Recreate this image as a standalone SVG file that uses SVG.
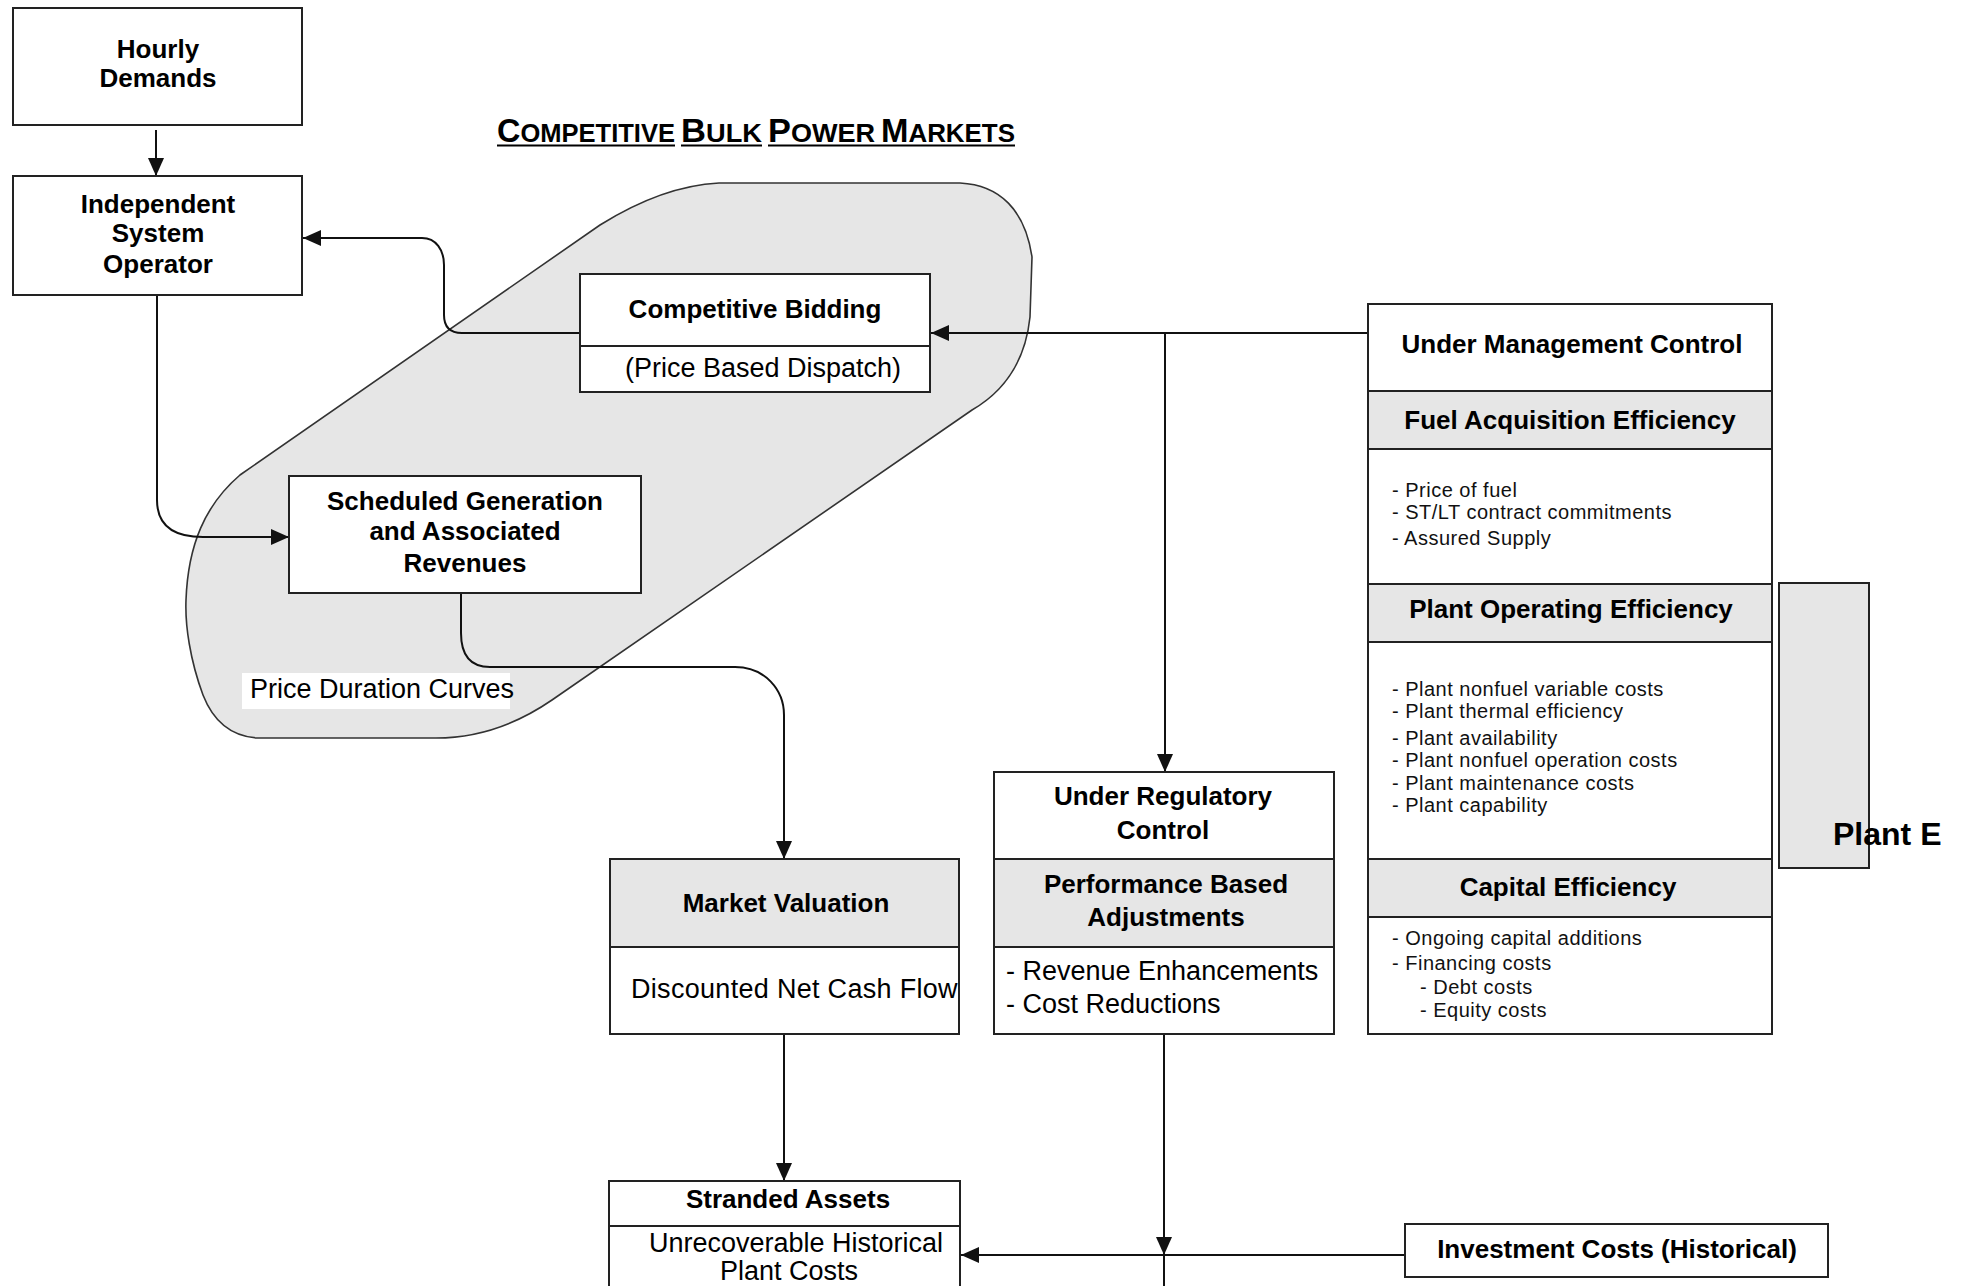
<svg xmlns="http://www.w3.org/2000/svg" width="1963" height="1286" viewBox="0 0 1963 1286">
<style>
.box{fill:#fff;stroke:#222;stroke-width:2}
.hdr{fill:#e6e6e6;stroke:#222;stroke-width:2}
.b{font-family:"Liberation Sans",Arial,sans-serif;font-weight:bold;font-size:26px;text-anchor:middle;fill:#000}
.r{font-family:"Liberation Sans",Arial,sans-serif;font-size:27px;fill:#000}
.s{font-family:"Liberation Sans",Arial,sans-serif;font-size:20px;letter-spacing:0.5px;fill:#111}
.conn{fill:none;stroke:#111;stroke-width:2}
.title{font-family:"Liberation Sans",Arial,sans-serif;font-weight:bold;fill:#000}
</style>
<defs>
<marker id="ah" viewBox="0 0 18 16" refX="18" refY="8" markerWidth="18" markerHeight="16" markerUnits="userSpaceOnUse" orient="auto"><path d="M0,0 L18,8 L0,16 Z" fill="#111"/></marker>
<clipPath id="mvclip"><rect x="610" y="947" width="349" height="87"/></clipPath>
</defs>
<rect width="1963" height="1286" fill="#fff"/>

<g id="market-region">
<path d="M 719 183 H 960 C 1000 185 1025 210 1032 257 L 1030 317 C 1026 355 1010 388 972 410 L 552 700 C 520 722 480 738 436 738 H 257 C 228 736 212 718 203 695 C 190 660 185 625 186 600 C 188 545 205 505 240 475 L 600 225 C 640 200 680 185 719 183 Z" fill="#e6e6e6" stroke="#333" stroke-width="1.6"/>
<rect x="242" y="673" width="268" height="36" fill="#fff"/>
<text class="r" x="250" y="698" font-size="26">Price Duration Curves</text>
</g>

<g id="title">
<text class="title" x="497" y="142" textLength="178" lengthAdjust="spacingAndGlyphs"><tspan font-size="33">C</tspan><tspan font-size="26">OMPETITIVE</tspan></text>
<text class="title" x="681" y="142" textLength="81" lengthAdjust="spacingAndGlyphs"><tspan font-size="33">B</tspan><tspan font-size="26">ULK</tspan></text>
<text class="title" x="768" y="142" textLength="107" lengthAdjust="spacingAndGlyphs"><tspan font-size="33">P</tspan><tspan font-size="26">OWER</tspan></text>
<text class="title" x="881" y="142" textLength="134" lengthAdjust="spacingAndGlyphs"><tspan font-size="33">M</tspan><tspan font-size="26">ARKETS</tspan></text>
<path d="M497 145.5H675M681 145.5H762M768 145.5H1015" stroke="#000" stroke-width="2"/>
</g>

<g id="connectors">
<path class="conn" d="M156 130 V176" marker-end="url(#ah)"/>
<path class="conn" d="M580 333 H462 C450 333 444 327 444 315 V265 C444 250 436 238 422 238 H303" marker-end="url(#ah)"/>
<path class="conn" d="M157 295 V500 C157 525 172 537 203 537 H289" marker-end="url(#ah)"/>
<path class="conn" d="M1368 333 H931" marker-end="url(#ah)"/>
<path class="conn" d="M1165 333 V772" marker-end="url(#ah)"/>
<path class="conn" d="M461 593 V633 C461 655 470 667 490 667 H735 C765 667 784 690 784 715 V859" marker-end="url(#ah)"/>
<path class="conn" d="M784 1034 V1181" marker-end="url(#ah)"/>
<path class="conn" d="M1164 1034 V1255" marker-end="url(#ah)"/>
<path class="conn" d="M1164 1255 V1290"/>
<path class="conn" d="M1405 1255 H961" marker-end="url(#ah)"/>
</g>

<g id="hourly-demands">
<rect class="box" x="13" y="8" width="289" height="117"/>
<text class="b" x="158" y="58">Hourly</text>
<text class="b" x="158" y="87">Demands</text>
</g>

<g id="iso">
<rect class="box" x="13" y="176" width="289" height="119"/>
<text class="b" x="158" y="213">Independent</text>
<text class="b" x="158" y="242">System</text>
<text class="b" x="158" y="273">Operator</text>
</g>

<g id="competitive-bidding">
<rect class="box" x="580" y="274" width="350" height="118"/>
<line x1="580" y1="346" x2="930" y2="346" stroke="#222" stroke-width="2"/>
<text class="b" x="755" y="318">Competitive Bidding</text>
<text class="r" x="763" y="377" text-anchor="middle">(Price Based Dispatch)</text>
</g>

<g id="scheduled-generation">
<rect class="box" x="289" y="476" width="352" height="117"/>
<text class="b" x="465" y="510">Scheduled Generation</text>
<text class="b" x="465" y="540">and Associated</text>
<text class="b" x="465" y="572">Revenues</text>
</g>

<g id="management-control">
<rect class="box" x="1368" y="304" width="404" height="730"/>
<rect class="hdr" x="1368" y="391" width="404" height="58"/>
<rect class="hdr" x="1368" y="584" width="404" height="58"/>
<rect class="hdr" x="1368" y="859" width="404" height="58"/>
<text class="b" x="1572" y="353">Under Management Control</text>
<text class="b" x="1570" y="429">Fuel Acquisition Efficiency</text>
<text class="s" x="1392" y="497">- Price of fuel</text>
<text class="s" x="1392" y="519">- ST/LT contract commitments</text>
<text class="s" x="1392" y="545">- Assured Supply</text>
<text class="b" x="1571" y="618">Plant Operating Efficiency</text>
<text class="s" x="1392" y="696">- Plant nonfuel variable costs</text>
<text class="s" x="1392" y="718">- Plant thermal efficiency</text>
<text class="s" x="1392" y="745">- Plant availability</text>
<text class="s" x="1392" y="767">- Plant nonfuel operation costs</text>
<text class="s" x="1392" y="790">- Plant maintenance costs</text>
<text class="s" x="1392" y="812">- Plant capability</text>
<text class="b" x="1568" y="896">Capital Efficiency</text>
<text class="s" x="1392" y="945">- Ongoing capital additions</text>
<text class="s" x="1392" y="970">- Financing costs</text>
<text class="s" x="1420" y="994">- Debt costs</text>
<text class="s" x="1420" y="1017">- Equity costs</text>
</g>

<g id="plant-e">
<rect class="hdr" x="1779" y="583" width="90" height="285"/>
<text x="1833" y="845" font-family="Liberation Sans, Arial, sans-serif" font-weight="bold" font-size="32" fill="#000">Plant E</text>
</g>

<g id="market-valuation">
<rect class="box" x="610" y="859" width="349" height="175"/>
<rect class="hdr" x="610" y="859" width="349" height="88"/>
<text class="b" x="786" y="912">Market Valuation</text>
<text class="r" x="631" y="998" font-size="29" letter-spacing="0.3" clip-path="url(#mvclip)">Discounted Net Cash Flow</text>
</g>

<g id="regulatory-control">
<rect class="box" x="994" y="772" width="340" height="262"/>
<rect class="hdr" x="994" y="859" width="340" height="88"/>
<text class="b" x="1163" y="805">Under Regulatory</text>
<text class="b" x="1163" y="839">Control</text>
<text class="b" x="1166" y="893">Performance Based</text>
<text class="b" x="1166" y="926">Adjustments</text>
<text class="r" x="1006" y="980">- Revenue Enhancements</text>
<text class="r" x="1006" y="1013">- Cost Reductions</text>
</g>

<g id="stranded-assets">
<rect class="box" x="609" y="1181" width="351" height="120"/>
<line x1="609" y1="1226" x2="960" y2="1226" stroke="#222" stroke-width="2"/>
<text class="b" x="788" y="1208">Stranded Assets</text>
<text class="r" x="796" y="1252" text-anchor="middle">Unrecoverable Historical</text>
<text class="r" x="789" y="1280" text-anchor="middle">Plant Costs</text>
</g>

<g id="investment-costs">
<rect class="box" x="1405" y="1224" width="423" height="53"/>
<text class="b" x="1617" y="1258">Investment Costs (Historical)</text>
</g>
</svg>
